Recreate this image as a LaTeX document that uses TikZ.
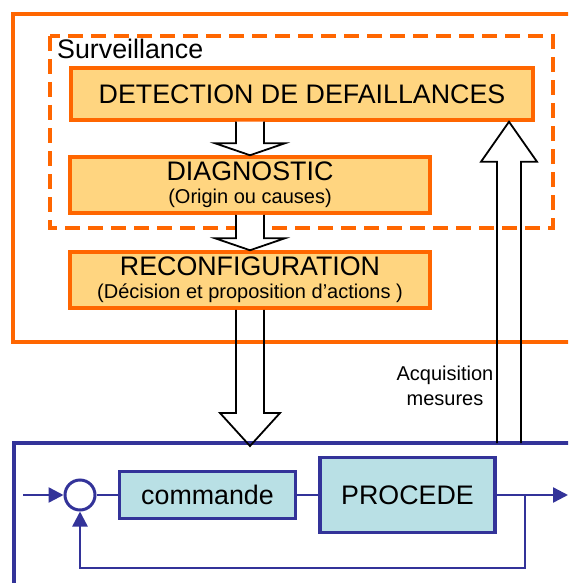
\documentclass[tikz,border=0pt]{standalone}
\usepackage{fontspec}
\setmainfont{Liberation Sans}
\usetikzlibrary{calc,arrows.meta}
\definecolor{survorange}{HTML}{FF6600}
\definecolor{survfill}{HTML}{FFD580}
\definecolor{loopblue}{HTML}{333399}
\definecolor{loopfill}{HTML}{B9E0E5}
\newcommand{\bigtxt}{\fontsize{26.8}{28}\selectfont}
\newcommand{\smalltxt}{\fontsize{20}{22}\selectfont}
\newcommand{\blockarrow}[6][]{\draw[blockline,#1] let \p1=(#2), \p2=(#3) in
  (\x1-#4,\y1) -- (\x1-#4,{\y2+(#6)}) -- (\x1-#5,{\y2+(#6)}) -- (\x1,\y2)
  -- (\x1+#5,{\y2+(#6)}) -- (\x1+#4,{\y2+(#6)}) -- (\x1+#4,\y1);}
\tikzset{
  survbox/.style={draw=survorange, fill=survfill, line width=3.5pt, align=center, font=\bigtxt},
  loopbox/.style={draw=loopblue, fill=loopfill, line width=3.5pt, font=\bigtxt},
  blockline/.style={draw=black, line width=1.8pt, line join=miter},
  link/.style={draw=loopblue, double=white, line width=2.4pt, double distance=1.8pt},
  tip/.style={-{Triangle[length=15pt,width=15pt]}}
}
\begin{document}
\begin{tikzpicture}[x=1pt,y=-1pt]
  \clip (0,0) rectangle (568,583);
  \draw[survorange, line width=4pt] (13,14) rectangle (600,342);
  \draw[survorange, line width=4pt, dash pattern=on 15pt off 8pt] (50,36) rectangle (553,228);
  \node[anchor=base west, font=\bigtxt, inner sep=0pt] (surv) at (57,59) {Surveillance};
  \node[survbox, minimum width=462pt, minimum height=52pt] (det) at (302,94) {DETECTION DE DEFAILLANCES};
  \node[survbox, minimum width=360pt, minimum height=56pt] (diag) at (250,185)
    {DIAGNOSTIC\\[-5pt]{\smalltxt (Origin ou causes)}};
  \node[survbox, minimum width=360pt, minimum height=56pt] (reconf) at (250,280)
    {RECONFIGURATION\\[-5pt]{\smalltxt (Décision et proposition d’actions )}};
  \draw[loopblue, line width=4pt] (14,443) rectangle (600,600);
  \coordinate (looptop) at (0,446);
  \coordinate (acqfoot) at (509,443);
  \node[align=center, font=\smalltxt] (acq) at (445,386) {Acquisition\\[3pt]mesures};
  \node[circle, draw=loopblue, fill=white, line width=3pt, minimum size=30pt, inner sep=0pt] (sum) at (80,495) {};
  \node[loopbox, minimum width=176pt, minimum height=47pt] (cmd) at (207.5,495) {commande};
  \node[loopbox, minimum width=175pt, minimum height=75pt] (proc) at (407.5,495) {PROCEDE};
  \coordinate (in) at (23,495);
  \coordinate (out) at (568,495);
  \coordinate (fb) at (525,568);
  \begin{scope}[link]
    \draw[tip] (in) -- (sum);
    \draw (sum) -- (cmd);
    \draw (cmd) -- (proc);
    \draw[tip] (proc) -- (out);
    \draw[tip] (fb |- proc.east) -- (fb) -| (sum);
  \end{scope}
  \blockarrow[fill=white]{diag.north |- det.south}{diag.north}{14pt}{35pt}{12pt}
  \blockarrow[fill=white]{reconf.north |- diag.south}{reconf.north}{14pt}{35pt}{12pt}
  \blockarrow{reconf.south}{reconf.south |- looptop}{14pt}{30pt}{33pt}
  \blockarrow{acqfoot}{acqfoot |- det.south}{12pt}{28pt}{-40pt}
\end{tikzpicture}
\end{document}
